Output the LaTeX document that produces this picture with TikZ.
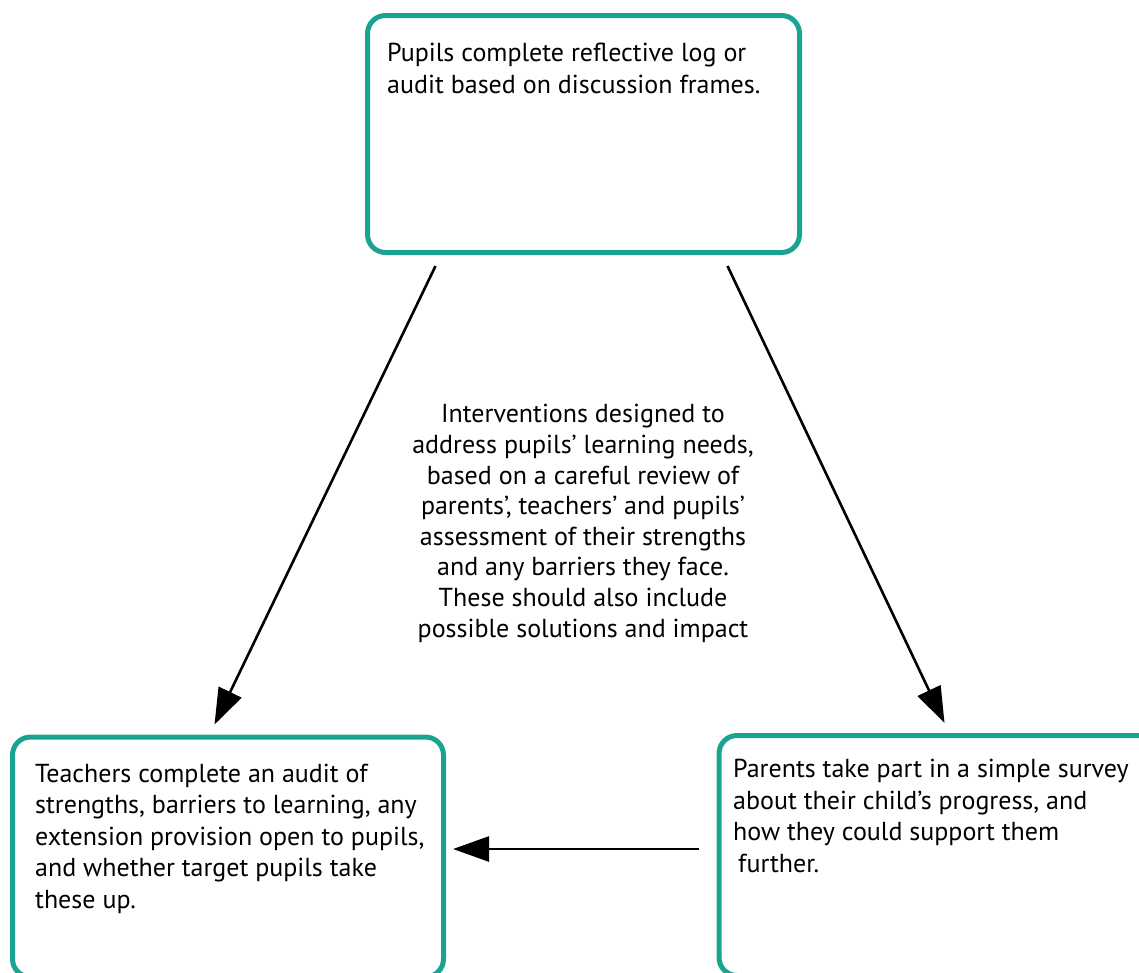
\documentclass[tikz,border=0pt]{standalone}
\usepackage{fontspec}
\setmainfont{PT Sans}
\usetikzlibrary{arrows.meta}
\definecolor{boxteal}{RGB}{26,163,145}
\begin{document}
\begin{tikzpicture}[x=1pt,y=-1pt,
  stagebox/.style={draw=boxteal,line width=5pt,rounded corners=18pt,inner sep=0pt,fill=white},
  boxtext/.style={anchor=base west,inner sep=0pt,align=left,font=\fontsize{26}{31.5}\selectfont},
  midtext/.style={anchor=base,inner sep=0pt,align=center,font=\fontsize{26}{30.6}\selectfont},
  flow/.style={line width=2.6pt,-{Triangle[length=36pt,width=25pt]}}]
\useasboundingbox (0,0) rectangle (1139,972);
\clip (0,0) rectangle (1139,972);
% the three stage boxes (the lower two run past the bottom edge)
\node[stagebox,minimum width=432pt,minimum height=237pt] (pupils) at (583.5,134) {};
\node[stagebox,minimum width=431pt,minimum height=240pt] (teachers) at (228,857) {};
\node[stagebox,minimum width=500pt,minimum height=240pt] (parents) at (969,855.5) {};
% box texts, each placed by the baseline of its last line
\node[boxtext] (pupilstxt) at (387,93) {Pupils complete reflective log or\\audit based on discussion frames.};
\node[boxtext] (teacherstxt) at (35,908) {Teachers complete an audit of\\strengths, barriers to learning, any\\extension provision open to pupils,\\and whether target pupils take\\these up.};
\node[boxtext] (parentstxt) at (733,872) {Parents take part in a simple survey\\about their child’s progress, and\\how they could support them\\\hspace*{5pt}further.};
% central statement
\node[midtext] (aim) at (583,637) {Interventions designed to\\address pupils’ learning needs,\\based on a careful review of\\parents’, teachers’ and pupils’\\assessment of their strengths\\and any barriers they face.\\These should also include\\possible solutions and impact};
% connectors
\draw[flow] ([xshift=70.5pt,yshift=-11pt]pupils.south west) -- ([xshift=204.5pt,yshift=10pt]teachers.north west);
\draw[flow] ([xshift=-74.5pt,yshift=-11pt]pupils.south east) -- ([xshift=228pt,yshift=10pt]parents.north west);
\draw[flow] ([xshift=-18pt]parents.west |- 0,849) -- ([xshift=7pt]teachers.east |- 0,849);
\end{tikzpicture}
\end{document}
